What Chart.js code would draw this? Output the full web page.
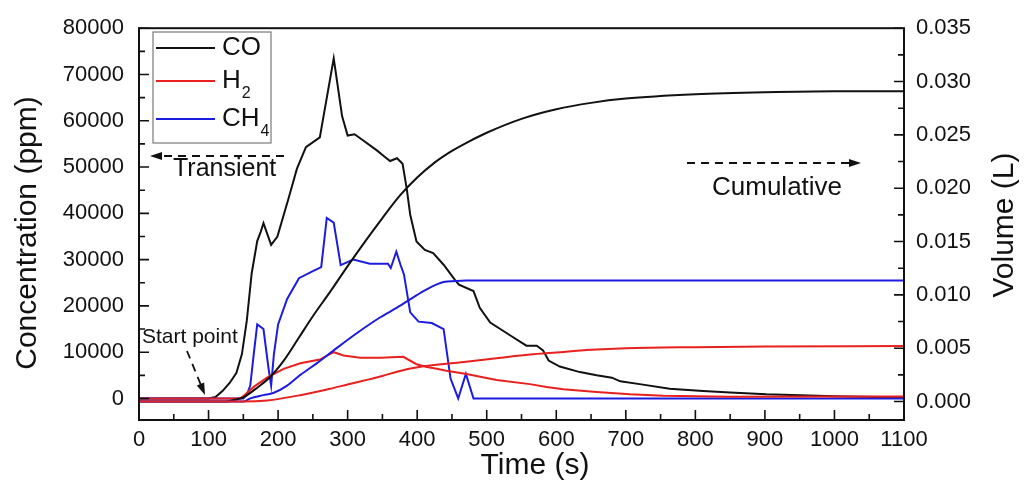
<!DOCTYPE html>
<html>
<head>
<meta charset="utf-8">
<script src="https://cdn.jsdelivr.net/npm/chart.js@4/dist/chart.umd.min.js"></script>
<style>
  html, body { margin: 0; padding: 0; background: #fff; }
  canvas { display: block; }
</style>
</head>
<body>
<canvas id="myChart" width="1024" height="485"></canvas>
<script>
// transient concentrations (ppm), left axis
const coTime = [0, 100, 110, 120, 130, 140, 148, 155, 162, 170, 175, 179, 190, 199, 215, 227, 240, 260, 280, 292, 300, 310, 320, 342, 351, 361, 371, 379, 385, 390, 399, 411, 423, 438, 454, 460, 481, 490, 505, 534, 557, 572, 581, 589, 605, 634, 658, 680, 692, 720, 763, 811, 850, 902, 1000, 1100];
const coConc = [0, 0, 300, 1600, 3300, 5500, 9600, 16800, 27000, 34000, 36000, 37900, 33200, 35000, 43200, 49600, 54300, 56400, 73500, 61000, 56800, 57100, 56000, 53600, 52500, 51300, 51900, 50700, 45300, 39700, 33900, 32100, 31400, 28900, 25700, 24600, 23200, 19600, 16400, 13600, 11400, 11400, 10400, 8200, 6900, 5700, 5000, 4500, 3700, 3100, 2100, 1600, 1300, 900, 500, 200];

const h2Time = [0, 145, 150, 165, 184, 208, 232, 260, 280, 294, 318, 347, 380, 399, 414, 428, 442, 471, 514, 562, 586, 610, 658, 706, 754, 850, 1000, 1100];
const h2Conc = [0, 0, 500, 2500, 4500, 6400, 7600, 8400, 10000, 9300, 8800, 8800, 9000, 7400, 6800, 6400, 6000, 5300, 4000, 3100, 2500, 2000, 1400, 900, 600, 400, 450, 450];

const ch4Time = [0, 150, 155, 160, 165, 170, 179, 186, 190, 194, 200, 213, 230, 250, 262, 270, 280, 290, 308, 332, 358, 362, 370, 376, 381, 390, 402, 421, 438, 448, 459, 470, 481, 1100];
const ch4Conc = [0, 0, 800, 2800, 9600, 16000, 15000, 6800, 2800, 9600, 16000, 21500, 26000, 27500, 28400, 39000, 38000, 28800, 30000, 29100, 29100, 28200, 31700, 28900, 26800, 18600, 16600, 16300, 15000, 4300, 0, 5300, 0, 0];

// cumulative volumes (L), right axis
const coVolTime = [0, 125, 140, 150, 170, 190, 210, 230, 250, 275, 300, 325, 350, 375, 400, 425, 450, 475, 500, 550, 600, 650, 700, 800, 900, 1000, 1100];
const coVol = [0, 0, 0.0002, 0.0004, 0.0013, 0.0024, 0.0040, 0.0060, 0.0080, 0.0103, 0.0127, 0.0150, 0.0172, 0.0193, 0.0210, 0.0224, 0.0235, 0.0244, 0.0252, 0.0265, 0.0274, 0.0280, 0.0284, 0.0288, 0.0290, 0.0291, 0.0291];

const h2VolTime = [0, 150, 184, 232, 275, 300, 332, 350, 371, 409, 467, 520, 562, 600, 650, 700, 800, 900, 1100];
const h2Vol = [0, 0, 0.0001, 0.0006, 0.0012, 0.0016, 0.0021, 0.0024, 0.0028, 0.0033, 0.0037, 0.0041, 0.0044, 0.0046, 0.00485, 0.0050, 0.0051, 0.00515, 0.0052];

const ch4VolTime = [0, 150, 160, 179, 193, 213, 232, 256, 280, 313, 347, 371, 400, 419, 438, 455, 470, 1100];
const ch4Vol = [0, 0, 0.0003, 0.0006, 0.0008, 0.0015, 0.0025, 0.0036, 0.0048, 0.0064, 0.0079, 0.0088, 0.0100, 0.0107, 0.0112, 0.0113, 0.01135, 0.01135];

// tick labels
const timeTicks = [0, 100, 200, 300, 400, 500, 600, 700, 800, 900, 1000, 1100];
const concTicks = [0, 10000, 20000, 30000, 40000, 50000, 60000, 70000, 80000];
const volTicks = [0, 0.005, 0.010, 0.015, 0.020, 0.025, 0.030, 0.035];

const BLACK = '#111111';
const RED = '#e8201e';
const BLUE = '#1c1ce0';
const FONT = "'Liberation Sans', Arial, sans-serif";

const toPoints = (xs, ys) => xs.map((x, i) => ({x: x, y: ys[i]}));

const transientLine = (data, color) => ({
    data: data,
    borderColor: color,
    borderWidth: 2,
    pointRadius: 0,
    tension: 0,
    yAxisID: 'yL'
});

const cumulativeLine = (data, color) => ({
    data: data,
    borderColor: color,
    borderWidth: 2,
    pointRadius: 0,
    cubicInterpolationMode: 'monotone',
    yAxisID: 'yR'
});

const arrowHead = (ctx, x1, y1, x2, y2, len, half) => {
    let ang = Math.atan2(y2 - y1, x2 - x1);
    ctx.beginPath();
    ctx.moveTo(x2, y2);
    ctx.lineTo(x2 - len * Math.cos(ang) + half * Math.sin(ang), y2 - len * Math.sin(ang) - half * Math.cos(ang));
    ctx.lineTo(x2 - len * Math.cos(ang) - half * Math.sin(ang), y2 - len * Math.sin(ang) + half * Math.cos(ang));
    ctx.closePath();
    ctx.fill();
};

const dashedArrow = (ctx, x1, y1, x2, y2) => {
    let ang = Math.atan2(y2 - y1, x2 - x1);
    ctx.save();
    ctx.setLineDash([8, 6]);
    ctx.lineWidth = 1.8;
    ctx.beginPath();
    ctx.moveTo(x1, y1);
    ctx.lineTo(x2 - 10 * Math.cos(ang), y2 - 10 * Math.sin(ang));
    ctx.stroke();
    ctx.restore();
    arrowHead(ctx, x1, y1, x2, y2, 12, 4);
};

const verticalText = (ctx, text, x, y) => {
    ctx.save();
    ctx.translate(x, y);
    ctx.rotate(-Math.PI / 2);
    ctx.textAlign = 'center';
    ctx.textBaseline = 'middle';
    ctx.fillText(text, 0, 0);
    ctx.restore();
};

const bgPlugin = {
    id: 'bg',
    beforeDraw(chart) {
        const ctx = chart.ctx;
        ctx.save();
        ctx.fillStyle = '#fff';
        ctx.fillRect(0, 0, chart.width, chart.height);
        ctx.restore();
    }
};

const decorPlugin = {
    id: 'decor',
    afterDraw(chart) {
        const ctx = chart.ctx;
        const {left, right, top, bottom} = chart.chartArea;
        const xs = chart.scales.x, yl = chart.scales.yL, yr = chart.scales.yR;
        ctx.save();
        ctx.strokeStyle = BLACK;
        ctx.fillStyle = BLACK;

        // frame
        ctx.lineWidth = 2;
        ctx.strokeRect(left, top, right - left, bottom - top);

        // inward ticks
        ctx.lineWidth = 1.6;
        ctx.beginPath();
        for (let i = 0; i < timeTicks.length; i++) {
            let px = xs.getPixelForValue(timeTicks[i]);
            ctx.moveTo(px, bottom); ctx.lineTo(px, bottom - 10);
            if (i < timeTicks.length - 1) {
                let mx = xs.getPixelForValue((timeTicks[i] + timeTicks[i + 1]) / 2);
                ctx.moveTo(mx, bottom); ctx.lineTo(mx, bottom - 6);
            }
        }
        for (let i = 0; i < concTicks.length; i++) {
            let py = yl.getPixelForValue(concTicks[i]);
            ctx.moveTo(left, py); ctx.lineTo(left + 10, py);
            if (i < concTicks.length - 1) {
                let my = yl.getPixelForValue((concTicks[i] + concTicks[i + 1]) / 2);
                ctx.moveTo(left, my); ctx.lineTo(left + 6, my);
            }
        }
        for (let i = 0; i < volTicks.length; i++) {
            let py = yr.getPixelForValue(volTicks[i]);
            ctx.moveTo(right, py); ctx.lineTo(right - 10, py);
            if (i < volTicks.length - 1) {
                let my = yr.getPixelForValue((volTicks[i] + volTicks[i + 1]) / 2);
                ctx.moveTo(right, my); ctx.lineTo(right - 6, my);
            }
        }
        ctx.stroke();

        // axis titles
        ctx.font = `30px ${FONT}`;
        verticalText(ctx, 'Concentration (ppm)', 28, 233);
        verticalText(ctx, 'Volume (L)', 1005, 225);
        ctx.textAlign = 'center';
        ctx.textBaseline = 'middle';
        ctx.fillText('Time (s)', 535, 466);

        // legend
        ctx.fillStyle = '#fff';
        ctx.fillRect(153, 32, 118, 111);
        ctx.strokeStyle = '#7a7a7a';
        ctx.lineWidth = 1.2;
        ctx.strokeRect(153, 32, 118, 111);
        const legendRows = [
            {label: 'CO', sub: '', color: BLACK, y: 48},
            {label: 'H', sub: '2', color: RED, y: 81},
            {label: 'CH', sub: '4', color: BLUE, y: 119}
        ];
        ctx.textBaseline = 'middle';
        ctx.textAlign = 'left';
        for (let row of legendRows) {
            ctx.strokeStyle = row.color;
            ctx.lineWidth = 2;
            ctx.beginPath();
            ctx.moveTo(156, row.y);
            ctx.lineTo(215, row.y);
            ctx.stroke();
            ctx.fillStyle = BLACK;
            ctx.font = `26px ${FONT}`;
            ctx.fillText(row.label, 222, row.y);
            if (row.sub) {
                let w = ctx.measureText(row.label).width;
                ctx.font = `16px ${FONT}`;
                ctx.fillText(row.sub, 222 + w + 1, row.y + 13);
            }
        }

        // annotations
        ctx.strokeStyle = BLACK;
        ctx.fillStyle = BLACK;
        dashedArrow(ctx, 284, 156, 150, 156);
        dashedArrow(ctx, 687, 163, 861, 163);
        dashedArrow(ctx, 187, 351, 205, 395);
        ctx.font = `25px ${FONT}`;
        ctx.textBaseline = 'middle';
        ctx.fillText('Transient', 173, 169);
        ctx.font = `26px ${FONT}`;
        ctx.fillText('Cumulative', 712, 188);
        ctx.font = `21px ${FONT}`;
        ctx.fillText('Start point', 142, 337);
        ctx.restore();
    }
};

const createChart = () => {
    let ctx = document.getElementById('myChart').getContext('2d');
    return new Chart(ctx, {
        type: 'line',
        data: {
            datasets: [
                cumulativeLine(toPoints(h2VolTime, h2Vol), RED),
                cumulativeLine(toPoints(ch4VolTime, ch4Vol), BLUE),
                cumulativeLine(toPoints(coVolTime, coVol), BLACK),
                transientLine(toPoints(h2Time, h2Conc), RED),
                transientLine(toPoints(ch4Time, ch4Conc), BLUE),
                transientLine(toPoints(coTime, coConc), BLACK)
            ]
        },
        options: {
            responsive: false,
            animation: false,
            devicePixelRatio: 1,
            layout: {padding: {top: 25, left: 0, right: 0, bottom: 0}},
            plugins: {legend: {display: false}, tooltip: {enabled: false}},
            scales: {
                x: {
                    type: 'linear',
                    min: 0,
                    max: 1100,
                    afterFit: (s) => { s.height = 65; },
                    afterBuildTicks: (s) => { s.ticks = timeTicks.map(v => ({value: v})); },
                    grid: {display: false, drawTicks: false},
                    border: {display: false},
                    ticks: {
                        padding: 7,
                        color: BLACK,
                        font: {family: FONT, size: 22},
                        maxRotation: 0,
                        callback: (v) => String(v)
                    }
                },
                yL: {
                    type: 'linear',
                    position: 'left',
                    min: -4650,
                    max: 80000,
                    afterFit: (s) => { s.width = 139; },
                    afterBuildTicks: (s) => { s.ticks = concTicks.map(v => ({value: v})); },
                    grid: {display: false, drawTicks: false},
                    border: {display: false},
                    ticks: {
                        padding: 15,
                        color: BLACK,
                        font: {family: FONT, size: 22},
                        callback: (v) => String(v)
                    }
                },
                yR: {
                    type: 'linear',
                    position: 'right',
                    min: -0.00173,
                    max: 0.035,
                    afterFit: (s) => { s.width = 120; },
                    afterBuildTicks: (s) => { s.ticks = volTicks.map(v => ({value: v})); },
                    grid: {display: false, drawTicks: false},
                    border: {display: false},
                    ticks: {
                        padding: 12,
                        color: BLACK,
                        font: {family: FONT, size: 22},
                        callback: (v) => v.toFixed(3)
                    }
                }
            }
        },
        plugins: [bgPlugin, decorPlugin]
    });
};

createChart();
</script>
</body>
</html>
